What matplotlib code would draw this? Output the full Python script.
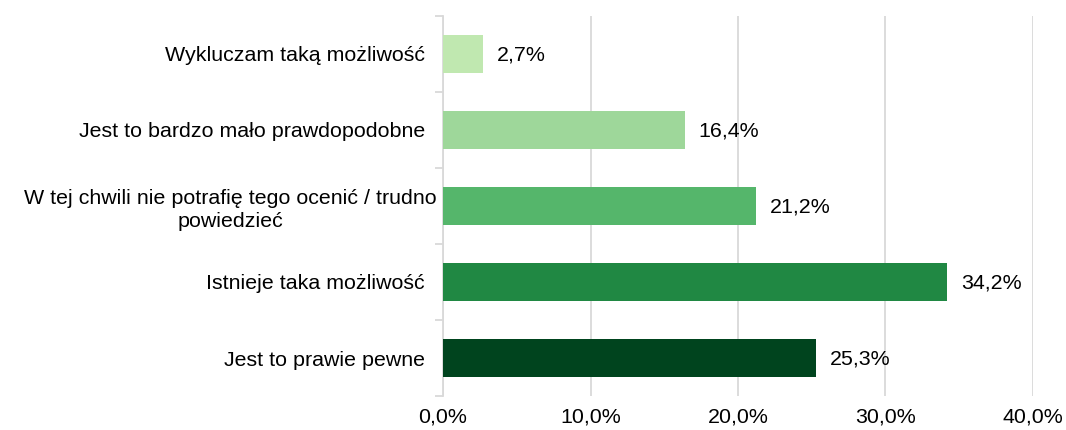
import matplotlib
matplotlib.use("Agg")
import matplotlib.pyplot as plt
from matplotlib.ticker import FixedLocator, FuncFormatter
from matplotlib.transforms import ScaledTranslation

plt.rcParams['font.family'] = ['Liberation Sans', 'DejaVu Sans']

categories = [
    "Jest to prawie pewne",
    "Istnieje taka możliwość",
    "W tej chwili nie potrafię tego ocenić / trudno\npowiedzieć",
    "Jest to bardzo mało prawdopodobne",
    "Wykluczam taką możliwość",
]
values = [25.3, 34.2, 21.2, 16.4, 2.7]
colors = ["#00441e", "#208843", "#55b66b", "#9ed79a", "#c0e8b0"]
xticks = [0, 10, 20, 30, 40]

FS = 15.4

fig = plt.figure(figsize=(10.66, 4.30), dpi=100)
ax = fig.add_axes([0.4156, 0.079, 0.969 - 0.4156, 0.884])

y = list(range(len(categories)))
ax.barh(y, values, height=0.51, color=colors, zorder=3)
for yi, v in zip(y, values):
    ax.annotate(f"{v:.1f}%".replace(".", ","), (v, yi), xytext=(10, -1),
                textcoords="offset points", va="center", ha="left", fontsize=FS)

ax.set_xlim(0, 40)
ax.set_ylim(-0.5, len(categories) - 0.5)
ax.set_xticks(xticks)
ax.xaxis.set_major_formatter(FuncFormatter(lambda v, p: f"{v:.1f}%".replace(".", ",")))
ax.tick_params(axis="x", length=0, labelsize=FS, pad=8)
ax.grid(axis="x", color="#d9d9d9", linewidth=1.3, zorder=0)

ax.set_yticks(y)
ax.set_yticklabels(categories, fontsize=FS, ha="right", multialignment="center",
                   linespacing=1.3)
ax.yaxis.set_minor_locator(FixedLocator([i - 0.5 for i in range(len(categories) + 1)]))
ax.tick_params(axis="y", which="major", length=0, pad=13)
ax.tick_params(axis="y", which="minor", length=6, color="#d9d9d9", width=1.3)
for lbl in ax.get_yticklabels():
    if "\n" in lbl.get_text():
        lbl.set_transform(lbl.get_transform() + ScaledTranslation(0.12, 0, fig.dpi_scale_trans))

for s in ["top", "right", "bottom"]:
    ax.spines[s].set_visible(False)
ax.spines["left"].set_color("#d9d9d9")
ax.spines["left"].set_linewidth(1.3)

fig.savefig("out.png", dpi=100)
